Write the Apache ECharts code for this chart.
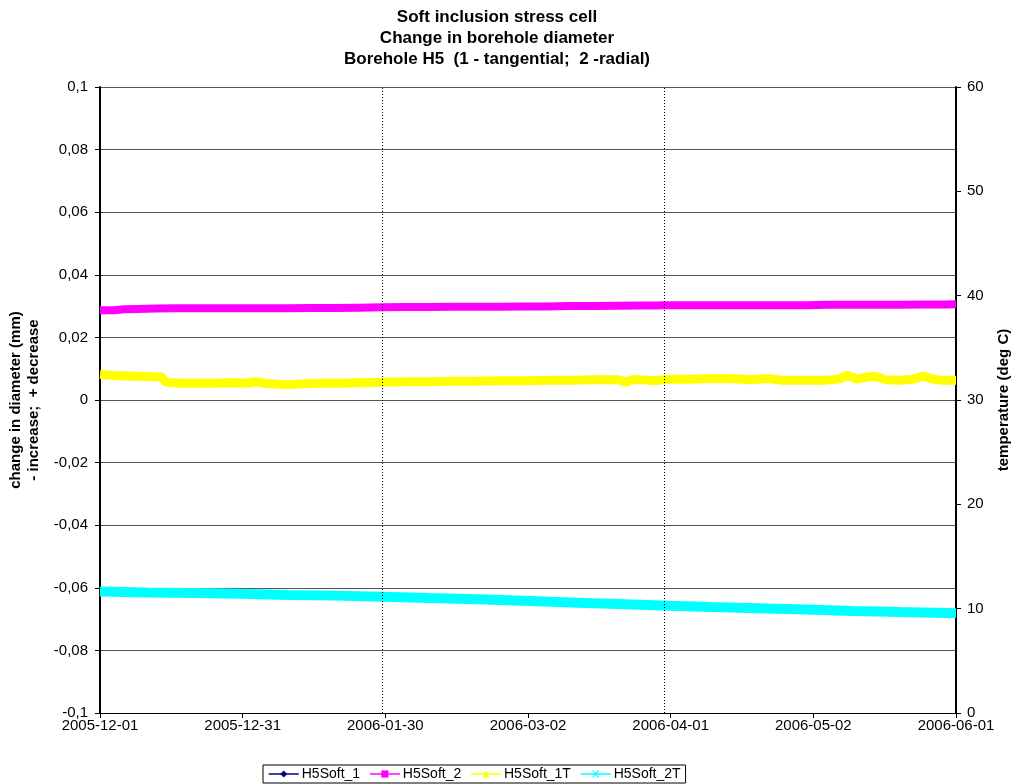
<!DOCTYPE html>
<html><head><meta charset="utf-8">
<script src="https://cdn.jsdelivr.net/npm/echarts@6/dist/echarts.min.js"></script>
<style>html,body{margin:0;padding:0;background:#fff}#c{width:1013px;height:784px}</style>
</head><body><div id="c"></div>
<script>
// x-axis tick labels (6 equal steps over 182 days from 2005-12-01)
const xTickLabels = ['2005-12-01','2005-12-31','2006-01-30','2006-03-02','2006-04-01','2006-05-02','2006-06-01'];
const xSpanDays = 182;
// dotted vertical reference lines (days since 2005-12-01)
const markerDays = [60, 120];

// H5Soft_1 (no visible data)
const soft1Days = [];
const soft1Vals = [];

// H5Soft_2 (left axis, mm)
const soft2Days = [0,3,5,8,12,16,20,25,30,35,40,45,50,55,60,65,70,75,80,85,90,95,100,105,110,115,118,120,125,130,135,140,145,150,155,160,165,170,175,180,182];
const soft2Vals = [0.0287,0.0287,0.0290,0.0291,0.0292,0.0293,0.0293,0.0293,0.0293,0.0293,0.0293,0.0294,0.0294,0.0295,0.0296,0.0297,0.0297,0.0298,0.0298,0.0298,0.0299,0.0299,0.0300,0.0300,0.0301,0.0302,0.0302,0.0303,0.0303,0.0303,0.0303,0.0303,0.0303,0.0303,0.0304,0.0304,0.0304,0.0304,0.0305,0.0305,0.0306];

// H5Soft_1T (right axis, deg C)
const soft1TDays = [0,3,6,9,12,13,14,17,20,24,28,31,33,35,38,40,43,47,51,55,60,65,70,75,80,85,91,96,100,105,110,112,113,115,118,121,125,130,134,138,142,145,150,154,157,159,161,163,165,167,170,173,175,177,179,182];
const soft1TVals = [32.45,32.35,32.3,32.25,32.2,32.25,31.7,31.6,31.6,31.6,31.65,31.6,31.75,31.6,31.5,31.45,31.55,31.6,31.6,31.65,31.7,31.75,31.75,31.8,31.8,31.85,31.85,31.9,31.9,31.95,31.95,31.7,31.95,31.95,31.85,32.0,32.0,32.05,32.05,31.95,32.05,31.9,31.9,31.9,32.0,32.35,32.0,32.2,32.25,31.95,31.9,32.0,32.3,32.0,31.9,31.9];

// H5Soft_2T (right axis, deg C)
const soft2TDays = [0,5,10,20,30,40,50,60,70,80,90,100,110,121,130,140,150,160,170,182];
const soft2TVals = [11.65,11.6,11.55,11.5,11.42,11.32,11.25,11.15,11.02,10.9,10.75,10.6,10.45,10.28,10.15,10.05,9.92,9.78,9.68,9.57];

const zip = (a, b) => a.map((d, i) => [d, b[i]]);
const FONT = 'Liberation Sans, Arial, sans-serif';
const step = xSpanDays / 6;
const X_SYMBOL = 'path://M0,0L2,0L5,3.5L8,0L10,0L6,5L10,10L8,10L5,6.5L2,10L0,10L4,5Z';

const chart = echarts.init(document.getElementById('c'), null, {renderer: 'canvas'});
chart.setOption({
  animation: false,
  backgroundColor: '#fff',
  textStyle: {fontFamily: FONT, color: '#000'},
  title: {
    text: 'Soft inclusion stress cell\nChange in borehole diameter\nBorehole H5  (1 - tangential;  2 -radial)',
    left: 492, textAlign: 'center', top: 2,
    textStyle: {fontFamily: FONT, fontSize: 17, fontWeight: 'bold', color: '#000', lineHeight: 21}
  },
  grid: {left: 100, right: 57, top: 87, bottom: 71, containLabel: false, outerBoundsMode: 'none'},
  legend: {
    bottom: 1, left: 263,
    borderColor: '#000', borderWidth: 1, padding: [2, 5, 2, 5],
    itemGap: 9, itemWidth: 30, itemHeight: 9,
    textStyle: {fontFamily: FONT, fontSize: 14, color: '#000', padding: [0, 0, 0, -2]},
    lineStyle: {width: 1.5},
    data: ['H5Soft_1', 'H5Soft_2', 'H5Soft_1T', 'H5Soft_2T']
  },
  xAxis: {
    type: 'value', min: 0, max: xSpanDays, interval: step,
    axisLine: {onZero: false, lineStyle: {color: '#000', width: 1}},
    axisTick: {show: true, length: 5, lineStyle: {color: '#000'}},
    splitLine: {show: false},
    axisLabel: {
      fontFamily: FONT, fontSize: 15, color: '#000', margin: 5,
      formatter: v => xTickLabels[Math.round(v / step)] || ''
    }
  },
  yAxis: [
    {
      type: 'value', min: -0.1, max: 0.1, interval: 0.02, position: 'left',
      name: 'change in diameter (mm)\n- increase;  + decrease',
      nameLocation: 'middle', nameGap: 52, nameRotate: 90,
      nameTextStyle: {fontFamily: FONT, fontSize: 15, fontWeight: 'bold', color: '#000', lineHeight: 18},
      axisLine: {show: true, onZero: false, lineStyle: {color: '#000', width: 2}},
      axisTick: {show: true, length: 5, lineStyle: {color: '#000'}},
      splitLine: {show: true, lineStyle: {color: '#555', width: 1}},
      axisLabel: {
        fontFamily: FONT, fontSize: 15, color: '#000', margin: 12,
        formatter: v => String(+v.toFixed(2)).replace('.', ',')
      }
    },
    {
      type: 'value', min: 0, max: 60, interval: 10, position: 'right',
      name: 'temperature (deg C)',
      nameLocation: 'middle', nameGap: 40, nameRotate: 90,
      nameTextStyle: {fontFamily: FONT, fontSize: 15, fontWeight: 'bold', color: '#000'},
      axisLine: {show: true, onZero: false, lineStyle: {color: '#000', width: 2}},
      axisTick: {show: true, length: 5, lineStyle: {color: '#000'}},
      splitLine: {show: false},
      axisLabel: {fontFamily: FONT, fontSize: 15, color: '#000', margin: 11}
    }
  ],
  series: [
    {
      name: 'H5Soft_1', type: 'line', yAxisIndex: 0, data: zip(soft1Days, soft1Vals),
      symbol: 'diamond', symbolSize: 9, showSymbol: false, color: '#000080',
      lineStyle: {width: 8, color: '#000080'},
      markLine: {
        silent: true, symbol: 'none', label: {show: false},
        lineStyle: {type: [1, 2], color: '#000', width: 1},
        data: markerDays.map(d => ({xAxis: d}))
      }
    },
    {
      name: 'H5Soft_2', type: 'line', yAxisIndex: 0, data: zip(soft2Days, soft2Vals),
      symbol: 'rect', symbolSize: 8, showSymbol: false, color: '#ff00ff',
      lineStyle: {width: 8, color: '#ff00ff'}
    },
    {
      name: 'H5Soft_1T', type: 'line', yAxisIndex: 1, data: zip(soft1TDays, soft1TVals),
      symbol: 'triangle', symbolSize: 9, showSymbol: false, color: '#ffff00',
      lineStyle: {width: 9, color: '#ffff00'}
    },
    {
      name: 'H5Soft_2T', type: 'line', yAxisIndex: 1, data: zip(soft2TDays, soft2TVals),
      symbol: X_SYMBOL, symbolSize: 9, showSymbol: false, color: '#00ffff',
      lineStyle: {width: 10, color: '#00ffff'}
    }
  ]
});
</script>
</body></html>
